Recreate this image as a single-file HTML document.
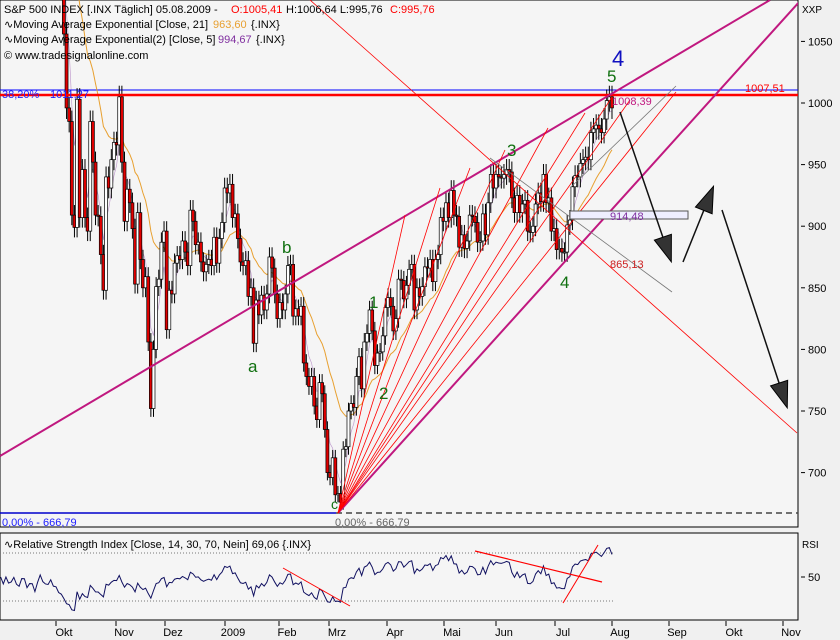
<!DOCTYPE html>
<html><head><meta charset="utf-8"><style>
body{margin:0;background:#f0f0f0;font-family:"Liberation Sans",sans-serif}
svg{display:block}
text{font-family:"Liberation Sans",sans-serif}
</style></head><body>
<svg id="c" width="840" height="640" viewBox="0 0 840 640">
<rect x="0" y="0" width="840" height="640" fill="#f0f0f0"/>
<rect x="0" y="0" width="798" height="527" fill="#f5f5f5" stroke="#000"/>
<rect x="0" y="533" width="798" height="87" fill="#f5f5f5" stroke="#000"/>
<g id="g"></g>
</svg>
<script>
const months=["Okt","Nov","Dez","2009","Feb","Mrz","Apr","Mai","Jun","Jul","Aug","Sep","Okt","Nov"];
const monthX=[56,116,165,225,279,329,387,444,496,555,612,669,726,783];
const yTicks=[700,750,800,850,900,950,1000,1050];
const closes=[1277,1236,1274,1236,1242,1267,1224,1210,1252,1251,1192,1214,1213,1156,1206,1255,1207,1189,1185,1213,1166,
1161,1114,1099,1056,996,985,909,899,1003,907,946,907,896,985,952,909,908,877,848,940,931,954,968,
966,1005,952,904,930,919,898,853,911,873,850,859,806,752,800,851,857,887,896,
816,848,845,870,876,873,888,879,868,913,904,885,887,871,863,869,873,868,891,870,890,903,
931,927,934,907,910,890,871,868,872,843,850,805,840,828,844,832,845,875,866,845,
825,838,832,845,868,869,827,833,827,835,789,778,770,778,754,743,773,764,735,
700,696,712,682,683,676,719,721,750,756,753,778,794,768,806,813,832,815,787,797,798,
811,834,842,835,815,825,857,856,841,852,865,869,832,850,843,851,867,866,873,855,873,
877,907,904,919,907,929,909,908,883,893,882,888,909,908,903,887,888,910,893,919,
942,931,942,940,939,942,946,944,923,911,925,911,918,921,896,895,900,918,927,920,942,919,
923,896,898,881,882,879,879,901,905,932,941,940,951,954,956,954,976,979,982,979,976,987,
1002,1005,996];
const firstOpen=1282;
const startOffset=21;
const NS="http://www.w3.org/2000/svg",g=document.getElementById('g');
function xOf(i){return 56+(i-startOffset)*2.635;}
function yOf(v){return 103+(1000-v)*1.232;}
function rY(v){return 577-(v-50)*1.2;}
function el(t,a,p){const e=document.createElementNS(NS,t);for(const k in a)e.setAttribute(k,a[k]);(p||g).appendChild(e);return e;}
function tx(x,y,s,fill,size,name,anchor){const e=el('text',{x:x,y:y,fill:fill,'font-size':size});if(anchor)e.setAttribute('text-anchor',anchor);e.textContent=s;

return e;}
const clip=el('clipPath',{id:'cp'});el('rect',{x:0,y:0,width:798,height:527},clip);
const clip2=el('clipPath',{id:'cp2'});el('rect',{x:0,y:533,width:798,height:87},clip2);
const pg=el('g',{'clip-path':'url(#cp)'});


el('line',{x1:0,y1:90,x2:798,y2:90,stroke:'#0000ff','stroke-width':1},pg);
el('line',{x1:0,y1:513,x2:336,y2:513,stroke:'#0000cc','stroke-width':1.5},pg);
el('line',{x1:336,y1:513,x2:798,y2:513,stroke:'#444','stroke-width':1.5,'stroke-dasharray':'6,4'},pg);
function ema(n){let r=[],e=closes[0];closes.forEach((c,i)=>{e=i?e+(c-e)*2/(n+1):c;r.push(e);});return r;}
const e21=ema(21),e5=ema(5);
el('polyline',{points:e21.map((v,i)=>xOf(i)+','+yOf(v)).join(' '),fill:'none',stroke:'#e8a030','stroke-width':1},pg);
el('polyline',{points:e5.map((v,i)=>xOf(i)+','+yOf(v)).join(' '),fill:'none',stroke:'#8030a0','stroke-width':0.6,opacity:0.5},pg);
closes.forEach((c,i)=>{const o=i?closes[i-1]:firstOpen;const h=Math.max(o,c)*1.009,l=Math.min(o,c)*0.991;const x=xOf(i);
const w=el('line',{x1:x,y1:yOf(h),x2:x,y2:yOf(l),stroke:'#000','stroke-width':1},pg);


const top=yOf(Math.max(o,c)),bh=Math.max(1,Math.abs(yOf(o)-yOf(c)));
const b=el('rect',{x:x-1.5,y:top,width:3,height:bh,fill:c>=o?'#fff':'#e00000',stroke:'#000','stroke-width':0.7},pg);

});
el('line',{x1:0,y1:95,x2:798,y2:95,stroke:'#ff0000','stroke-width':2.5},pg);
el('line',{x1:0,y1:456,x2:770,y2:0,stroke:'#c0187f','stroke-width':2},pg);
el('line',{x1:338,y1:513,x2:800,y2:1,stroke:'#c0187f','stroke-width':2},pg);
el('line',{x1:310,y1:0,x2:797,y2:433,stroke:'#ff0000','stroke-width':0.8},pg);
[[405,215],[440,188],[470,168],[505,150],[548,128],[585,113],[612,97],[630,100],[676,92]].forEach(p=>{
el('line',{x1:338,y1:513,x2:p[0],y2:p[1],stroke:'#ff0000','stroke-width':0.8},pg);});
el('line',{x1:490,y1:158,x2:672,y2:292,stroke:'#777','stroke-width':0.8},pg);
el('line',{x1:570,y1:188,x2:676,y2:86,stroke:'#777','stroke-width':0.8},pg);
el('rect',{x:570,y:211,width:118,height:8,fill:'#eef',stroke:'#555','stroke-width':1},pg);
function arrow(x1,y1,x2,y2){el('line',{x1:x1,y1:y1,x2:x2,y2:y2,stroke:'#111','stroke-width':1.5},pg);
const a=Math.atan2(y2-y1,x2-x1),L=22,W=9;const bx=x2-L*Math.cos(a),by=y2-L*Math.sin(a);
el('polygon',{points:`${x2+4*Math.cos(a)},${y2+4*Math.sin(a)} ${bx-W*Math.sin(a)},${by+W*Math.cos(a)} ${bx+W*Math.sin(a)},${by-W*Math.cos(a)}`,fill:'#333',stroke:'#000'},pg);}
arrow(620,112,670,258);arrow(683,262,712,190);arrow(722,210,786,404);
tx(2,98,'38,20%','#2020ff',11,'fib-38-label');tx(50,98,'1011,27','#2020ff',11,'fib-level-label');
tx(745,92,'1007,51','#ff0000',11,'resistance-label');tx(612,105,'1008,39','#c0187f',11,'level-1008-label');
tx(610,220,'914,48','#8030a0',11,'level-914-label');tx(610,268,'865,13','#cc2020',11,'level-865-label');
tx(2,526,'0,00% - 666,79','#2020ff',11,'fib-0-label');tx(335,526,'0,00% - 666,79','#666',11,'fib-0-label-2');
tx(612,66,'4','#1010c0',22,'wave-4-big');tx(607,82,'5','#107010',17,'wave-5');tx(507,156,'3','#107010',17,'wave-3');
tx(282,253,'b','#107010',17,'wave-b');tx(248,372,'a','#107010',17,'wave-a');tx(369,308,'1','#107010',17,'wave-1');
tx(379,399,'2','#107010',17,'wave-2');tx(560,288,'4','#107010',17,'wave-4');tx(331,509,'c','#107010',14,'wave-c');
tx(4,13,'S&P 500 INDEX [.INX  Täglich] 05.08.2009 - ','#000',11,'legend-title');
tx(231,13,'O:1005,41','#ff0000',11,'legend-open');tx(286,13,'H:1006,64 L:995,76','#000',11,'legend-hl');tx(390,13,'C:995,76','#ff0000',11,'legend-close');
tx(4,28,'∿Moving Average Exponential [Close, 21] ','#000',11,'legend-ema21');tx(213,28,'963,60','#e8a030',11,'legend-ema21-value');tx(251,28,'{.INX}','#000',11,'legend-ema21-sym');
tx(4,43,'∿Moving Average Exponential(2) [Close, 5] ','#000',11,'legend-ema5');tx(218,43,'994,67','#8030a0',11,'legend-ema5-value');tx(256,43,'{.INX}','#000',11,'legend-ema5-sym');
tx(4,59,'© www.tradesignalonline.com','#000',11,'copyright');
tx(802,13,'XXP','#000',10,'axis-unit');
yTicks.forEach(v=>{const y=yOf(v);el('line',{x1:801,y1:y,x2:805,y2:y,stroke:'#000'});tx(808,y+4,String(v),'#000',11,'y-tick-label');});
const rg=el('g',{'clip-path':'url(#cp2)'});


el('line',{x1:0,y1:rY(70),x2:615,y2:rY(70),stroke:'#777','stroke-dasharray':'1,2'},rg);
el('line',{x1:0,y1:rY(30),x2:615,y2:rY(30),stroke:'#777','stroke-dasharray':'1,2'},rg);
let ag=0,al=0,rsi=[];for(let i=0;i<closes.length;i++){const d=i?closes[i]-closes[i-1]:0;const gn=Math.max(d,0),ls=Math.max(-d,0);
ag=i?(ag*13+gn)/14:12;al=i?(al*13+ls)/14:12;rsi.push(100-100/(1+ag/(al||1e-6)));}
el('polyline',{points:rsi.map((v,i)=>xOf(i)+','+rY(v)).join(' '),fill:'none',stroke:'#101060','stroke-width':1},rg);
el('line',{x1:283,y1:568,x2:350,y2:606,stroke:'#ff0000'},rg);
el('line',{x1:475,y1:551,x2:602,y2:582,stroke:'#ff0000','stroke-width':1.2},rg);
el('line',{x1:563,y1:603,x2:598,y2:545,stroke:'#ff0000'},rg);
tx(4,548,'∿Relative Strength Index [Close, 14, 30, 70, Nein] 69,06 {.INX}','#000',11,'rsi-legend');
tx(802,548,'RSI','#000',10,'rsi-axis-title');
el('line',{x1:801,y1:577,x2:805,y2:577,stroke:'#000'});tx(808,581,'50','#000',11,'rsi-tick-50');
months.forEach((m,i)=>{el('line',{x1:monthX[i],y1:621,x2:monthX[i],y2:626,stroke:'#000'});tx(monthX[i]+8,636,m,'#000',11,'x-tick-label','middle');});
</script>
</body></html>
